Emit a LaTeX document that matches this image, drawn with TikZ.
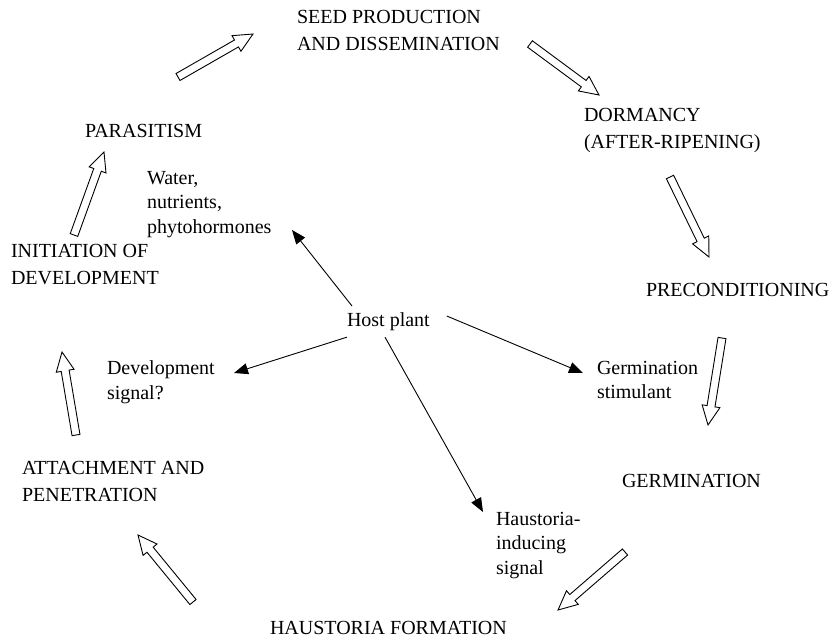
\documentclass[tikz,border=0pt]{standalone}
\usepackage{fontspec}
\setmainfont{Liberation Serif}
\usetikzlibrary{arrows.meta}
\tikzset{
  lab/.style={anchor=north west, inner sep=0pt, outer sep=0pt, align=left, font={\fontsize{20}{27}\selectfont}},
  sublab/.style={anchor=north west, inner sep=0pt, outer sep=0pt, align=left, font={\fontsize{20}{24.5}\selectfont}},
  blk/.style={line width=0.9pt, -{Triangle[length=14pt,width=11pt]}},
  blockarr/.style={draw=black, fill=white, line width=0.9pt, line join=miter}
}
\newcommand\openarrow[4]{%
  \pgfmathsetmacro\oaang{atan2(-((#4)-(#2)),(#3)-(#1))}%
  \pgfmathsetmacro\oalen{veclen((#3)-(#1),(#4)-(#2))}%
  \draw[blockarr,shift={(#1,#2)},rotate=\oaang]
    (0,-4) -- (\oalen-19,-4) -- (\oalen-19,-9) -- (\oalen,0)
    -- (\oalen-19,9) -- (\oalen-19,4) -- (0,4) -- cycle;}
\begin{document}
\begin{tikzpicture}[x=1pt,y=-1pt]
\useasboundingbox (0,0) rectangle (832,641);
% stage labels
\node[lab] (seed) at (297,10) {SEED PRODUCTION\\AND DISSEMINATION};
\node[lab] (dorm) at (584,108) {DORMANCY\\(AFTER-RIPENING)};
\node[lab] (precond) at (646,283) {PRECONDITIONING};
\node[lab] (germ) at (622,474) {GERMINATION};
\node[lab] (haus) at (270,621) {HAUSTORIA FORMATION};
\node[lab] (attach) at (22,461) {ATTACHMENT AND\\PENETRATION};
\node[lab] (init) at (11,244) {INITIATION OF\\DEVELOPMENT};
\node[lab] (paras) at (85,124) {PARASITISM};
% host signals
\node[sublab] (host) at (347,313) {Host plant};
\node[sublab] (water) at (147,171) {Water,\\nutrients,\\phytohormones};
\node[sublab] (devsig) at (107,361) {Development\\signal?};
\node[sublab] (germstim) at (597,361) {Germination\\stimulant};
\node[sublab] (haussig) at (496,512) {Haustoria-\\inducing\\signal};
% arrow ends
\coordinate (tipW) at (292,230);
\coordinate (tipD) at (234,373);
\coordinate (tipG) at (583,373);
\coordinate (tipH) at (483,512);
\draw[blk] ([xshift=5pt,yshift=7pt]host.north west) -- (tipW);
\draw[blk] ([yshift=-6pt]host.south west) -- (tipD);
\draw[blk] ([xshift=17pt,yshift=-3pt]host.north east) -- (tipG);
\draw[blk] ([xshift=38pt,yshift=-6pt]host.south west) -- (tipH);
% cycle arrows
\openarrow{178}{77}{253}{34}
\openarrow{530}{44}{599}{95}
\openarrow{670}{177}{709}{257}
\openarrow{722}{338}{708}{425}
\openarrow{625}{552}{558}{610}
\openarrow{193}{602}{138}{535}
\openarrow{76}{435}{62}{352}
\openarrow{74}{235}{104}{152}
\end{tikzpicture}
\end{document}
